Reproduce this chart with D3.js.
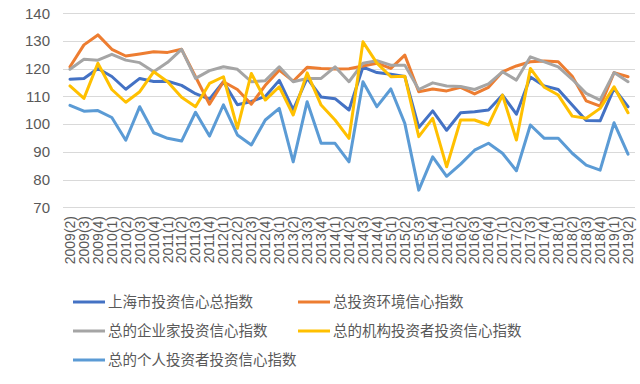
<!DOCTYPE html>
<html><head><meta charset="utf-8">
<script src="https://cdn.jsdelivr.net/npm/d3@7"></script>
<style>html,body{margin:0;padding:0;background:#fff;}svg{display:block;}</style>
</head><body>
<svg id="c" width="640" height="384"></svg>
<script>
const categories = ["2009(2)","2009(3)","2009(4)","2010(1)","2010(2)","2010(3)","2010(4)","2011(1)","2011(2)","2011(3)","2011(4)","2012(1)","2012(2)","2012(3)","2012(4)","2013(1)","2013(2)","2013(3)","2013(4)","2014(1)","2014(2)","2014(3)","2014(4)","2015(1)","2015(2)","2015(3)","2015(4)","2016(1)","2016(2)","2016(3)","2016(4)","2017(1)","2017(2)","2017(3)","2017(4)","2018(1)","2018(2)","2018(3)","2018(4)","2019(1)","2019(2)"];
const shanghai = [116.2,116.5,120.1,117.2,112.6,116.5,115.4,115.5,114.0,111.0,109.0,115.3,107.0,108.2,110.0,115.8,105.2,116.6,109.8,109.2,105.1,120.6,118.6,118.0,117.2,98.8,104.8,97.8,104.1,104.5,105.1,110.5,103.6,117.0,113.8,112.5,106.9,101.3,101.2,112.9,106.3];
const environment = [120.7,128.6,132.2,127.0,124.6,125.3,126.1,125.9,127.0,117.1,107.2,115.3,112.5,107.2,114.0,119.5,115.5,120.5,120.1,119.9,120.0,121.0,122.0,120.1,124.9,111.7,112.7,112.0,113.3,110.9,113.3,118.9,121.0,122.5,122.8,122.5,117.3,108.4,106.5,118.6,117.1];
const entrepreneur = [119.8,123.4,123.1,125.2,123.1,122.2,118.9,122.3,127.0,116.5,119.3,120.7,119.8,115.3,115.7,120.7,115.3,116.5,116.5,120.7,115.3,122.0,122.9,121.3,121.3,112.5,114.9,113.8,113.6,112.5,114.5,118.9,115.9,124.3,122.5,120.7,116.2,111.1,108.7,118.6,115.3];
const institution = [113.8,109.3,122.0,112.5,107.9,111.7,118.9,115.3,109.7,106.3,114.7,117.1,98.5,118.3,108.7,113.5,103.3,118.5,106.9,101.5,94.9,129.7,122.0,117.1,117.3,95.5,102.1,84.6,101.5,101.5,99.7,110.5,94.3,120.1,113.3,110.5,102.9,102.1,105.7,113.5,104.1];
const individual = [106.8,104.7,104.9,102.4,94.2,106.3,96.9,94.9,93.9,104.3,95.7,107.0,96.1,92.5,101.5,105.7,86.4,108.1,93.1,93.1,86.4,115.3,106.3,112.7,100.3,76.2,88.2,81.2,85.6,90.6,93.1,89.5,83.2,99.7,94.9,94.9,89.5,85.2,83.4,100.5,89.2];
const seriesNames = ["上海市投资信心总指数","总投资环境信心指数","总的企业家投资信心指数","总的机构投资者投资信心指数","总的个人投资者投资信心指数"];
const seriesColors = ["#4472C4","#ED7D31","#A5A5A5","#FFC000","#5B9BD5"];
const yTicks = [70,80,90,100,110,120,130,140];

const series = [shanghai, environment, entrepreneur, institution, individual];
const svg = d3.select("#c");
const x = d3.scaleBand().domain(categories).range([63, 635]);
const y = d3.scaleLinear().domain([70, 140]).range([207.3, 13.3]);
const cx = d => x(d) + x.bandwidth() / 2;

// gridlines
svg.append("g").selectAll("line").data(yTicks).join("line")
  .attr("x1", 63).attr("x2", 635)
  .attr("y1", d => Math.round(y(d)) + 0.5).attr("y2", d => Math.round(y(d)) + 0.5)
  .attr("stroke", "#D9D9D9").attr("stroke-width", 1);

// y labels
svg.append("g").selectAll("text").data(yTicks).join("text")
  .attr("x", 50).attr("y", d => y(d)).attr("dy", "0.35em")
  .attr("text-anchor", "end")
  .attr("font-family", "Liberation Sans, Arial, sans-serif").attr("font-size", 15)
  .attr("fill", "#595959").text(d => d);

// x labels
svg.append("g").selectAll("text").data(categories).join("text")
  .attr("transform", d => `translate(${cx(d)},216) rotate(-90)`)
  .attr("dy", "0.35em").attr("text-anchor", "end")
  .attr("font-family", "Liberation Sans, Arial, sans-serif").attr("font-size", 14)
  .attr("fill", "#595959").text(d => d);

// lines
const line = d3.line().x((d, i) => cx(categories[i])).y(d => y(d)).curve(d3.curveLinear);
series.forEach((s, k) => {
  svg.append("path").datum(s).attr("d", line)
    .attr("fill", "none").attr("stroke", seriesColors[k]).attr("stroke-width", 3)
    .attr("stroke-linejoin", "round").attr("stroke-linecap", "round");
});

// legend
const legendPos = [[73, 302], [298, 302], [73, 331], [298, 331], [73, 360]];
const lg = svg.append("g");
seriesNames.forEach((n, k) => {
  const [lx, ly] = legendPos[k];
  lg.append("line").attr("x1", lx).attr("x2", lx + 32).attr("y1", ly).attr("y2", ly)
    .attr("stroke", seriesColors[k]).attr("stroke-width", 3);
  lg.append("text").attr("x", lx + 35).attr("y", ly).attr("dy", "0.36em")
    .attr("font-family", "Noto Sans CJK SC, sans-serif").attr("font-size", 14.5)
    .attr("fill", "#595959").text(n);
});
</script>
</body></html>
